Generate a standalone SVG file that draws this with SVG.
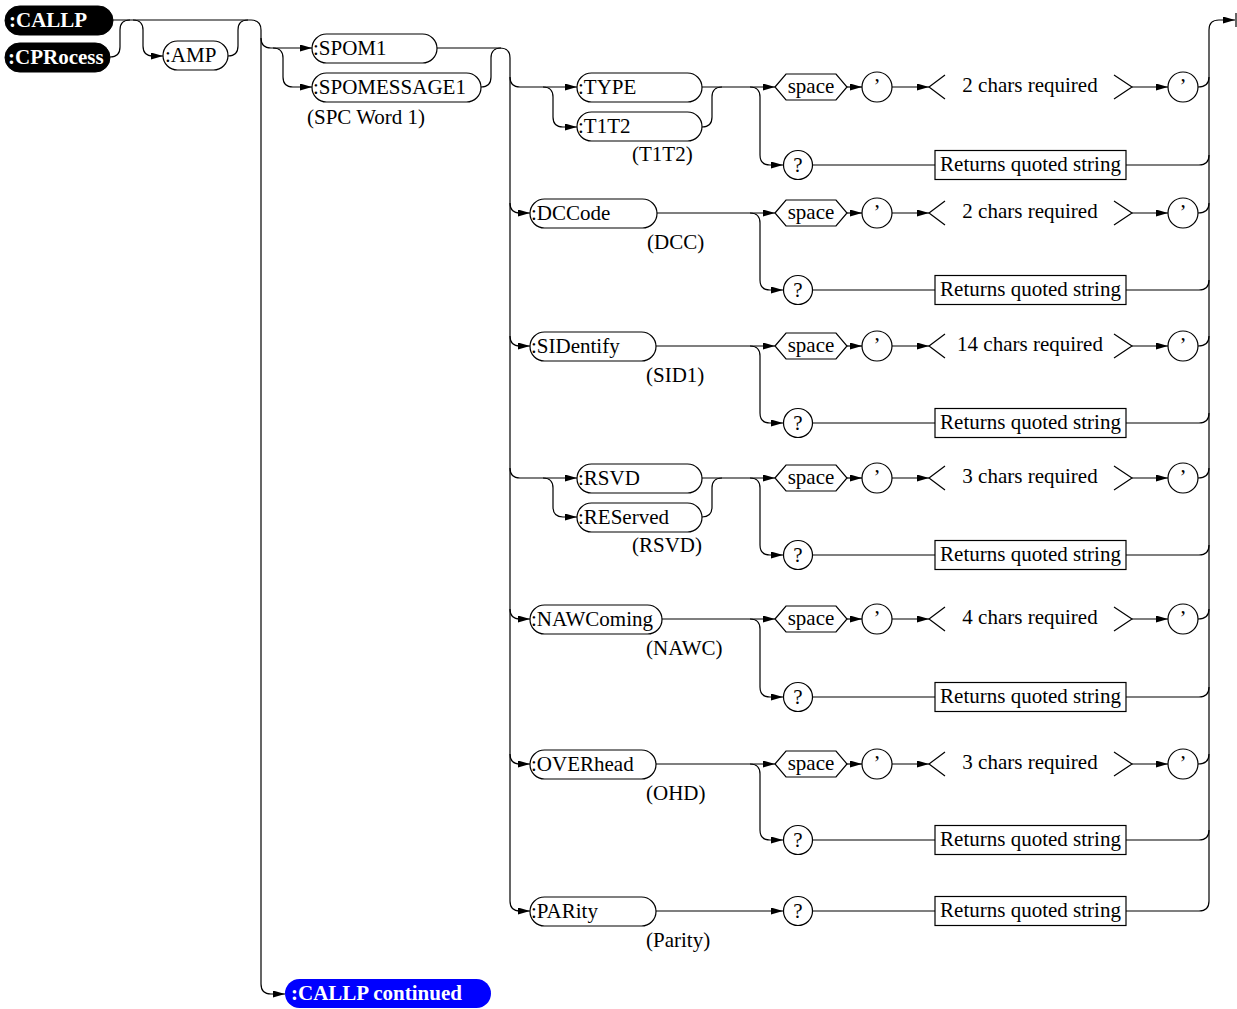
<svg xmlns="http://www.w3.org/2000/svg" width="1237" height="1009" viewBox="0 0 1237 1009">
<defs>
<marker id="arr" markerUnits="userSpaceOnUse" markerWidth="13" markerHeight="8" refX="12" refY="3.5" orient="auto"><path d="M0,0 L12,3.5 L0,7 z" fill="#000"/></marker>
<style>
.c{fill:none;stroke:#000;stroke-width:1.2}
.a{marker-end:url(#arr)}
.p{fill:#fff;stroke:#000;stroke-width:1.2}
.b{fill:#000;stroke:#000}
.t{font-family:"Liberation Serif","Times New Roman",serif;font-size:21px;fill:#000}
.m{text-anchor:middle}
.w{font-family:"Liberation Serif","Times New Roman",serif;font-size:21px;font-weight:bold;fill:#fff}
</style>
</defs>
<rect width="1237" height="1009" fill="#fff"/>
<g id="connectors">
<path class="c" d="M113,20 H251 Q261,20 261,30 V984 Q261,994 271,994 H285" marker-end="url(#arr)"/>
<path class="c" d="M110,57 Q120,57 120,47 V30 Q120,20 130,20"/>
<path class="c a" d="M133,20 Q143,20 143,30 V46 Q143,56 153,56 H163"/>
<path class="c" d="M228,56 Q238,56 238,46 V30 Q238,20 248,20"/>
<path class="c a" d="M261,38 Q261,48 271,48 H312"/>
<path class="c a" d="M273,48 Q283,48 283,58 V77 Q283,87 293,87 H312"/>
<path class="c a" d="M437,48 H500 Q510,48 510,58 V901 Q510,911 520,911 H530"/>
<path class="c" d="M481,87 Q491,87 491,77 V58 Q491,48 501,48"/>
<path class="c" d="M1209,901 V30 Q1209,20 1219,20 H1235" marker-end="url(#arr)"/>
<path class="c" d="M1236,13 V27"/>
<!-- row 1 -->
<path class="c a" d="M510,77 Q510,87 520,87 H577"/>
<path class="c a" d="M543,87 Q553,87 553,97 V117 Q553,127 563,127 H577"/>
<path class="c a" d="M702,87 H775"/>
<path class="c" d="M702,127 Q712,127 712,117 V97 Q712,87 722,87"/>
<path class="c a" d="M750,87 Q760,87 760,97 V155 Q760,165 770,165 H783"/>
<path class="c a" d="M847,87 H862"/>
<path class="c a" d="M892,87 H929"/>
<path class="c a" d="M1132,87 H1168"/>
<path class="c" d="M1198,87 Q1209,87 1209,77"/>
<path class="c" d="M813,165 H935"/>
<path class="c" d="M1126,165 H1199 Q1209,165 1209,155"/>
<!-- row 2 -->
<path class="c a" d="M510,203 Q510,213 520,213 H530"/>
<path class="c a" d="M657,213 H775"/>
<path class="c a" d="M750,213 Q760,213 760,223 V280 Q760,290 770,290 H783"/>
<path class="c a" d="M847,213 H862"/>
<path class="c a" d="M892,213 H929"/>
<path class="c a" d="M1132,213 H1168"/>
<path class="c" d="M1198,213 Q1209,213 1209,203"/>
<path class="c" d="M813,290 H935"/>
<path class="c" d="M1126,290 H1199 Q1209,290 1209,280"/>
<!-- row 3 -->
<path class="c a" d="M510,336 Q510,346 520,346 H530"/>
<path class="c a" d="M656,346 H775"/>
<path class="c a" d="M750,346 Q760,346 760,356 V413 Q760,423 770,423 H783"/>
<path class="c a" d="M847,346 H862"/>
<path class="c a" d="M892,346 H929"/>
<path class="c a" d="M1132,346 H1168"/>
<path class="c" d="M1198,346 Q1209,346 1209,336"/>
<path class="c" d="M813,423 H935"/>
<path class="c" d="M1126,423 H1199 Q1209,423 1209,413"/>
<!-- row 4 -->
<path class="c a" d="M510,468 Q510,478 520,478 H577"/>
<path class="c a" d="M543,478 Q553,478 553,488 V507 Q553,517 563,517 H577"/>
<path class="c a" d="M702,478 H775"/>
<path class="c" d="M702,517 Q712,517 712,507 V488 Q712,478 722,478"/>
<path class="c a" d="M750,478 Q760,478 760,488 V545 Q760,555 770,555 H783"/>
<path class="c a" d="M847,478 H862"/>
<path class="c a" d="M892,478 H929"/>
<path class="c a" d="M1132,478 H1168"/>
<path class="c" d="M1198,478 Q1209,478 1209,468"/>
<path class="c" d="M813,555 H935"/>
<path class="c" d="M1126,555 H1199 Q1209,555 1209,545"/>
<!-- row 5 -->
<path class="c a" d="M510,609 Q510,619 520,619 H530"/>
<path class="c a" d="M662,619 H775"/>
<path class="c a" d="M750,619 Q760,619 760,629 V687 Q760,697 770,697 H783"/>
<path class="c a" d="M847,619 H862"/>
<path class="c a" d="M892,619 H929"/>
<path class="c a" d="M1132,619 H1168"/>
<path class="c" d="M1198,619 Q1209,619 1209,609"/>
<path class="c" d="M813,697 H935"/>
<path class="c" d="M1126,697 H1199 Q1209,697 1209,687"/>
<!-- row 6 -->
<path class="c a" d="M510,754 Q510,764 520,764 H530"/>
<path class="c a" d="M656,764 H775"/>
<path class="c a" d="M750,764 Q760,764 760,774 V830 Q760,840 770,840 H783"/>
<path class="c a" d="M847,764 H862"/>
<path class="c a" d="M892,764 H929"/>
<path class="c a" d="M1132,764 H1168"/>
<path class="c" d="M1198,764 Q1209,764 1209,754"/>
<path class="c" d="M813,840 H935"/>
<path class="c" d="M1126,840 H1199 Q1209,840 1209,830"/>
<!-- row 7 -->
<path class="c a" d="M656,911 H783"/>
<path class="c" d="M813,911 H935"/>
<path class="c" d="M1126,911 H1199 Q1209,911 1209,901"/>
</g>
<g id="n-callp"><rect class="b" x="5" y="6" width="108" height="29" rx="14.5"/><text class="w" x="9" y="27">:CALLP</text></g>
<g id="n-cprocess"><rect class="b" x="5" y="43" width="105" height="29" rx="14.5"/><text class="w" x="8" y="64">:CPRocess</text></g>
<g id="n-amp"><rect class="p" x="163" y="41" width="65" height="29" rx="14.5"/><text class="t" x="165" y="62">:AMP</text></g>
<g id="n-spom1"><rect class="p" x="312" y="34" width="125" height="29" rx="14.5"/><text class="t" x="313" y="55">:SPOM1</text></g>
<g id="n-spomessage1"><rect class="p" x="312" y="73" width="169" height="29" rx="14.5"/><text class="t" x="313" y="94">:SPOMESSAGE1</text><text class="t" x="307" y="124">(SPC Word 1)</text></g>
<g id="n-type"><rect class="p" x="577" y="73" width="125" height="29" rx="14.5"/><text class="t" x="578" y="94">:TYPE</text></g>
<g id="n-t1t2"><rect class="p" x="577" y="112" width="125" height="29" rx="14.5"/><text class="t" x="578" y="133">:T1T2</text><text class="t" x="632" y="161">(T1T2)</text></g>
<g id="n-dccode"><rect class="p" x="530" y="199" width="127" height="29" rx="14.5"/><text class="t" x="531" y="220">:DCCode</text><text class="t" x="647" y="249">(DCC)</text></g>
<g id="n-sidentify"><rect class="p" x="530" y="332" width="126" height="29" rx="14.5"/><text class="t" x="531" y="353">:SIDentify</text><text class="t" x="646" y="382">(SID1)</text></g>
<g id="n-rsvd"><rect class="p" x="577" y="464" width="125" height="29" rx="14.5"/><text class="t" x="578" y="485">:RSVD</text></g>
<g id="n-reserved"><rect class="p" x="577" y="503" width="125" height="29" rx="14.5"/><text class="t" x="578" y="524">:REServed</text><text class="t" x="632" y="552">(RSVD)</text></g>
<g id="n-nawcoming"><rect class="p" x="530" y="605" width="132" height="29" rx="14.5"/><text class="t" x="531" y="626">:NAWComing</text><text class="t" x="646" y="655">(NAWC)</text></g>
<g id="n-overhead"><rect class="p" x="530" y="750" width="126" height="29" rx="14.5"/><text class="t" x="531" y="771">:OVERhead</text><text class="t" x="646" y="800">(OHD)</text></g>
<g id="n-parity"><rect class="p" x="530" y="897" width="126" height="29" rx="14.5"/><text class="t" x="531" y="918">:PARity</text><text class="t" x="646" y="947">(Parity)</text></g>
<g id="n-continued"><rect x="285" y="979" width="206" height="29" rx="14.5" fill="#0000ff"/><text class="w" x="291" y="1000">:CALLP continued</text></g>
<!-- row 1 elements -->
<g id="r1-space"><polygon class="p" points="775,87 786,74 836,74 847,87 836,100 786,100"/><text class="t m" x="811" y="93">space</text></g>
<g id="r1-q1"><circle class="p" cx="877" cy="87" r="15"/><text class="t m" x="877" y="93">’</text></g>
<g id="r1-chars"><polyline class="c" points="945,75 929,87 945,99"/><text class="t m" x="1030" y="92">2 chars required</text><polyline class="c" points="1114,75 1132,87 1114,99"/></g>
<g id="r1-q2"><circle class="p" cx="1183" cy="87" r="15"/><text class="t m" x="1183" y="93">’</text></g>
<g id="r1-ask"><circle class="p" cx="798" cy="165" r="14.5"/><text class="t m" x="798" y="172">?</text></g>
<g id="r1-ret"><rect class="p" x="935" y="150.5" width="191" height="29"/><text class="t m" x="1030.5" y="171">Returns quoted string</text></g>
<!-- row 2 -->
<g id="r2-space"><polygon class="p" points="775,213 786,200 836,200 847,213 836,226 786,226"/><text class="t m" x="811" y="219">space</text></g>
<g id="r2-q1"><circle class="p" cx="877" cy="213" r="15"/><text class="t m" x="877" y="219">’</text></g>
<g id="r2-chars"><polyline class="c" points="945,201 929,213 945,225"/><text class="t m" x="1030" y="218">2 chars required</text><polyline class="c" points="1114,201 1132,213 1114,225"/></g>
<g id="r2-q2"><circle class="p" cx="1183" cy="213" r="15"/><text class="t m" x="1183" y="219">’</text></g>
<g id="r2-ask"><circle class="p" cx="798" cy="290" r="14.5"/><text class="t m" x="798" y="297">?</text></g>
<g id="r2-ret"><rect class="p" x="935" y="275.5" width="191" height="29"/><text class="t m" x="1030.5" y="296">Returns quoted string</text></g>
<!-- row 3 -->
<g id="r3-space"><polygon class="p" points="775,346 786,333 836,333 847,346 836,359 786,359"/><text class="t m" x="811" y="352">space</text></g>
<g id="r3-q1"><circle class="p" cx="877" cy="346" r="15"/><text class="t m" x="877" y="352">’</text></g>
<g id="r3-chars"><polyline class="c" points="945,334 929,346 945,358"/><text class="t m" x="1030" y="351">14 chars required</text><polyline class="c" points="1114,334 1132,346 1114,358"/></g>
<g id="r3-q2"><circle class="p" cx="1183" cy="346" r="15"/><text class="t m" x="1183" y="352">’</text></g>
<g id="r3-ask"><circle class="p" cx="798" cy="423" r="14.5"/><text class="t m" x="798" y="430">?</text></g>
<g id="r3-ret"><rect class="p" x="935" y="408.5" width="191" height="29"/><text class="t m" x="1030.5" y="429">Returns quoted string</text></g>
<!-- row 4 -->
<g id="r4-space"><polygon class="p" points="775,478 786,465 836,465 847,478 836,491 786,491"/><text class="t m" x="811" y="484">space</text></g>
<g id="r4-q1"><circle class="p" cx="877" cy="478" r="15"/><text class="t m" x="877" y="484">’</text></g>
<g id="r4-chars"><polyline class="c" points="945,466 929,478 945,490"/><text class="t m" x="1030" y="483">3 chars required</text><polyline class="c" points="1114,466 1132,478 1114,490"/></g>
<g id="r4-q2"><circle class="p" cx="1183" cy="478" r="15"/><text class="t m" x="1183" y="484">’</text></g>
<g id="r4-ask"><circle class="p" cx="798" cy="555" r="14.5"/><text class="t m" x="798" y="562">?</text></g>
<g id="r4-ret"><rect class="p" x="935" y="540.5" width="191" height="29"/><text class="t m" x="1030.5" y="561">Returns quoted string</text></g>
<!-- row 5 -->
<g id="r5-space"><polygon class="p" points="775,619 786,606 836,606 847,619 836,632 786,632"/><text class="t m" x="811" y="625">space</text></g>
<g id="r5-q1"><circle class="p" cx="877" cy="619" r="15"/><text class="t m" x="877" y="625">’</text></g>
<g id="r5-chars"><polyline class="c" points="945,607 929,619 945,631"/><text class="t m" x="1030" y="624">4 chars required</text><polyline class="c" points="1114,607 1132,619 1114,631"/></g>
<g id="r5-q2"><circle class="p" cx="1183" cy="619" r="15"/><text class="t m" x="1183" y="625">’</text></g>
<g id="r5-ask"><circle class="p" cx="798" cy="697" r="14.5"/><text class="t m" x="798" y="704">?</text></g>
<g id="r5-ret"><rect class="p" x="935" y="682.5" width="191" height="29"/><text class="t m" x="1030.5" y="703">Returns quoted string</text></g>
<!-- row 6 -->
<g id="r6-space"><polygon class="p" points="775,764 786,751 836,751 847,764 836,777 786,777"/><text class="t m" x="811" y="770">space</text></g>
<g id="r6-q1"><circle class="p" cx="877" cy="764" r="15"/><text class="t m" x="877" y="770">’</text></g>
<g id="r6-chars"><polyline class="c" points="945,752 929,764 945,776"/><text class="t m" x="1030" y="769">3 chars required</text><polyline class="c" points="1114,752 1132,764 1114,776"/></g>
<g id="r6-q2"><circle class="p" cx="1183" cy="764" r="15"/><text class="t m" x="1183" y="770">’</text></g>
<g id="r6-ask"><circle class="p" cx="798" cy="840" r="14.5"/><text class="t m" x="798" y="847">?</text></g>
<g id="r6-ret"><rect class="p" x="935" y="825.5" width="191" height="29"/><text class="t m" x="1030.5" y="846">Returns quoted string</text></g>
<!-- row 7 -->
<g id="r7-ask"><circle class="p" cx="798" cy="911" r="14.5"/><text class="t m" x="798" y="918">?</text></g>
<g id="r7-ret"><rect class="p" x="935" y="896.5" width="191" height="29"/><text class="t m" x="1030.5" y="917">Returns quoted string</text></g>
</svg>
